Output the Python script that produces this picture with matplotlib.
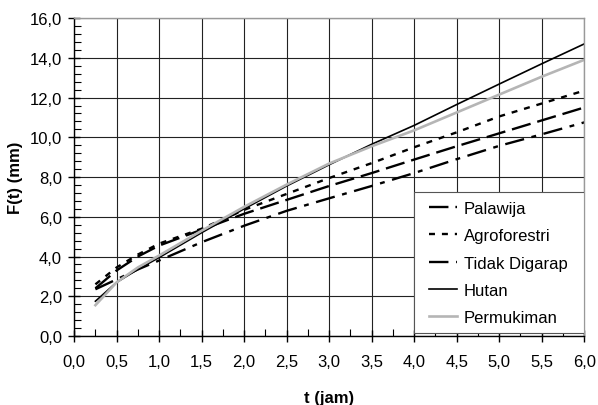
import matplotlib
matplotlib.use("Agg")
import matplotlib.pyplot as plt
from matplotlib.ticker import MultipleLocator, FuncFormatter
from matplotlib.patches import Rectangle

plt.rcParams['font.family'] = ['Liberation Sans', 'DejaVu Sans']
plt.rcParams['lines.scale_dashes'] = False

t = [0.25, 0.5, 0.75, 1.0, 1.5, 2.0, 2.5, 3.0, 3.5, 4.0, 4.5, 5.0, 5.5, 6.0]

palawija = [2.40, 3.30, 4.00, 4.55, 5.35, 6.15, 6.85, 7.55, 8.20, 8.88, 9.55, 10.20, 10.85, 11.50]
agroforestri = [2.60, 3.45, 4.10, 4.65, 5.40, 6.35, 7.15, 7.95, 8.70, 9.50, 10.25, 11.05, 11.70, 12.35]
tidak_digarap = [2.35, 2.85, 3.35, 3.80, 4.72, 5.55, 6.30, 6.93, 7.55, 8.20, 8.90, 9.57, 10.15, 10.75]
hutan = [1.75, 2.70, 3.35, 3.95, 5.20, 6.40, 7.55, 8.62, 9.65, 10.60, 11.65, 12.68, 13.70, 14.70]
permukiman = [1.55, 2.70, 3.45, 4.05, 5.30, 6.50, 7.62, 8.68, 9.55, 10.35, 11.25, 12.15, 13.05, 13.90]

labels = ["Palawija", "Agroforestri", "Tidak Digarap", "Hutan", "Permukiman"]

fig = plt.figure(figsize=(5.98, 4.06), dpi=100)
ax = fig.add_axes([0.124, 0.170, 0.853, 0.783])

ax.plot(t, palawija, color='black', lw=1.7, dashes=(14, 5), label=labels[0])
ax.plot(t, agroforestri, color='black', lw=1.7, dashes=(4.3, 5), label=labels[1])
ax.plot(t, tidak_digarap, color='black', lw=1.7, dashes=(14, 5.5, 3.5, 5.5), label=labels[2])
ax.plot(t, hutan, color='black', lw=1.2, label=labels[3])
ax.plot(t, permukiman, color='#b5b5b5', lw=1.9, label=labels[4])

ax.set_xlim(0, 6)
ax.set_ylim(0, 16)
ax.xaxis.set_major_locator(MultipleLocator(0.5))
ax.xaxis.set_minor_locator(MultipleLocator(0.25))
ax.yaxis.set_major_locator(MultipleLocator(2))
ax.yaxis.set_minor_locator(MultipleLocator(0.4))
fmt = FuncFormatter(lambda v, p: f"{v:.1f}".replace('.', ','))
ax.xaxis.set_major_formatter(fmt)
ax.yaxis.set_major_formatter(fmt)

ax.grid(True, which='major', color='#222222', lw=0.8)
ax.set_axisbelow(True)
ax.tick_params(which='major', direction='inout', length=8.5, width=1, labelsize=12, colors='black')
ax.tick_params(which='minor', direction='in', length=5, width=0.8)
ax.tick_params(axis='x', pad=9)
ax.tick_params(axis='y', pad=4.5)

for s in ['left', 'bottom']:
    ax.spines[s].set_color('black')
    ax.spines[s].set_linewidth(1.0)
for s in ['top', 'right']:
    ax.spines[s].set_color('#999999')
    ax.spines[s].set_linewidth(1.0)

ax.set_xlabel("t (jam)", fontsize=12, fontweight='bold', labelpad=15)
ax.set_ylabel("F(t) (mm)", fontsize=12, fontweight='bold', labelpad=5)

frame = Rectangle((0.6667, 0.008), 0.3333, 0.445, transform=ax.transAxes,
                  facecolor='white', edgecolor='#555555', lw=0.8, zorder=4.5)
ax.add_patch(frame)

leg = ax.legend(loc='upper left', bbox_to_anchor=(0.6955, 0.425),
                fontsize=12, frameon=False,
                handlelength=1.7, handletextpad=0.4, labelspacing=0.74, borderpad=0,
                borderaxespad=0)
leg.set_zorder(5)

fig.savefig("out.png", dpi=100)
